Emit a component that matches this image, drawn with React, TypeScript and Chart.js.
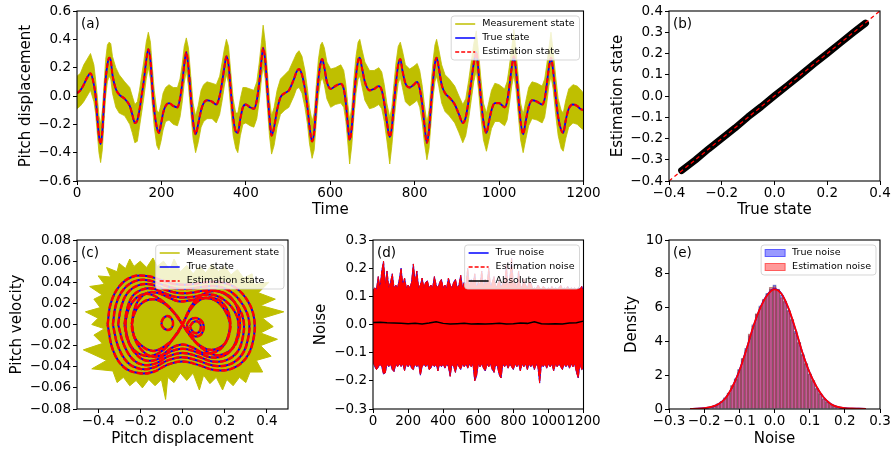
import React, { useEffect, useRef } from 'react';
import { Chart, registerables } from 'chart.js';

Chart.register(...registerables);

const FONT = "'DejaVu Sans', 'Liberation Sans', sans-serif";
const YEL = '#bfbf00';
const BLUE = '#0000ff';
const RED = '#ff0000';

// ---------------- (a) pitch displacement vs time ----------------
const stateTime = [
  0, 8, 16, 24, 32, 40, 44, 48, 52, 56,
  60, 64, 68, 72, 76, 80, 84, 92, 100, 113,
  125, 131, 137, 143, 148, 153, 158, 164, 169, 174,
  178, 183, 189, 194, 199, 204, 210, 218, 228, 238,
  244, 249, 254, 259, 264, 269, 275, 281, 287, 294,
  300, 308, 320, 330, 338, 344, 349, 354, 359, 364,
  370, 376, 381, 387, 393, 400, 410, 419, 426, 432,
  437, 441, 446, 451, 456, 461, 467, 474, 482, 492,
  502, 514, 520, 526, 533, 540, 546, 551, 557, 562,
  567, 572, 577, 581, 586, 592, 601, 612, 625, 632,
  637, 641, 646, 651, 656, 661, 666, 670, 675, 682,
  693, 704, 715, 722, 728, 734, 741, 746, 751, 756,
  761, 766, 771, 778, 788, 798, 806, 812, 818, 823,
  829, 834, 839, 844, 848, 852, 857, 864, 872, 882,
  895, 905, 914, 921, 928, 934, 940, 946, 951, 957,
  963, 970, 976, 982, 990, 1000, 1013, 1019, 1024, 1030,
  1035, 1040, 1046, 1051, 1057, 1063, 1070, 1078, 1090, 1102,
  1108, 1113, 1118, 1123, 1128, 1134, 1140, 1147, 1152, 1158,
  1165, 1175, 1185, 1192, 1200,
];
const trueState = [
  0.02, 0.04, 0.08, 0.13, 0.16, 0.08, 0.0, -0.15, -0.28, -0.34,
  -0.25, -0.05, 0.12, 0.22, 0.27, 0.25, 0.15, 0.05, 0.01, -0.02,
  -0.07, -0.13, -0.19, -0.17, -0.1, 0.0, 0.1, 0.25, 0.33, 0.25,
  0.08, -0.1, -0.22, -0.26, -0.2, -0.12, -0.07, -0.05, -0.07, -0.08,
  -0.02, 0.08, 0.22, 0.31, 0.2, 0.02, -0.18, -0.27, -0.2, -0.1,
  -0.05, -0.03, -0.04, -0.06, 0.0, 0.1, 0.2, 0.28, 0.22, 0.05,
  -0.15, -0.25, -0.26, -0.16, -0.08, -0.06, -0.08, -0.09, -0.03, 0.1,
  0.25, 0.34, 0.25, 0.05, -0.15, -0.28, -0.22, -0.1, -0.01, 0.02,
  0.04, 0.12, 0.17, 0.19, 0.15, 0.05, -0.08, -0.22, -0.32, -0.25,
  -0.05, 0.12, 0.23, 0.26, 0.2, 0.1, 0.05, 0.07, 0.085, 0.05,
  -0.05, -0.18, -0.31, -0.22, -0.02, 0.14, 0.25, 0.27, 0.2, 0.1,
  0.04, 0.05, 0.07, 0.04, -0.05, -0.18, -0.29, -0.22, -0.05, 0.1,
  0.22, 0.26, 0.18, 0.09, 0.06, 0.08, 0.1, 0.05, -0.06, -0.2,
  -0.33, -0.24, -0.05, 0.12, 0.23, 0.27, 0.2, 0.08, 0.02, -0.01,
  -0.06, -0.13, -0.19, -0.15, -0.03, 0.1, 0.23, 0.31, 0.18, -0.02,
  -0.18, -0.26, -0.18, -0.1, -0.05, -0.05, -0.08, -0.04, 0.06, 0.2,
  0.28, 0.18, -0.02, -0.18, -0.27, -0.18, -0.08, -0.03, -0.04, -0.06,
  -0.02, 0.08, 0.2, 0.27, 0.18, 0.0, -0.15, -0.24, -0.26, -0.17,
  -0.09, -0.06, -0.07, -0.09, -0.1,
];
// upper / lower edge of the noisy measurement trace
const measHigh = [
  0.14, 0.16, 0.22, 0.26, 0.3, 0.22, 0.12, 0.0, -0.14, -0.2,
  -0.1, 0.08, 0.26, 0.36, 0.38, 0.37, 0.28, 0.2, 0.15, 0.1,
  0.06, 0.0, -0.06, -0.04, 0.04, 0.14, 0.24, 0.38, 0.45, 0.38,
  0.22, 0.04, -0.1, -0.12, -0.06, 0.02, 0.06, 0.08, 0.06, 0.06,
  0.12, 0.22, 0.35, 0.41, 0.34, 0.16, -0.05, -0.14, -0.07, 0.04,
  0.08, 0.1, 0.09, 0.08, 0.14, 0.24, 0.33, 0.4, 0.35, 0.18,
  -0.02, -0.12, -0.12, -0.02, 0.06, 0.06, 0.05, 0.04, 0.1, 0.24,
  0.38, 0.5, 0.38, 0.18, -0.02, -0.14, -0.08, 0.04, 0.12, 0.15,
  0.18, 0.26, 0.3, 0.32, 0.28, 0.18, 0.05, -0.08, -0.18, -0.12,
  0.08, 0.26, 0.36, 0.38, 0.34, 0.24, 0.19, 0.2, 0.22, 0.18,
  0.08, -0.04, -0.17, -0.08, 0.12, 0.28, 0.38, 0.4, 0.33, 0.24,
  0.18, 0.18, 0.2, 0.17, 0.08, -0.05, -0.15, -0.08, 0.09, 0.24,
  0.35, 0.38, 0.32, 0.22, 0.19, 0.21, 0.23, 0.18, 0.07, -0.06,
  -0.19, -0.1, 0.09, 0.26, 0.36, 0.4, 0.33, 0.22, 0.15, 0.12,
  0.07, 0.0, -0.06, -0.02, 0.11, 0.24, 0.37, 0.46, 0.32, 0.12,
  -0.05, -0.12, -0.04, 0.04, 0.09, 0.08, 0.05, 0.1, 0.2, 0.34,
  0.47, 0.32, 0.12, -0.05, -0.13, -0.04, 0.06, 0.1, 0.09, 0.07,
  0.12, 0.22, 0.34, 0.45, 0.32, 0.14, -0.02, -0.1, -0.12, -0.03,
  0.05, 0.08, 0.07, 0.05, 0.02,
];
const measLow = [
  -0.09, -0.07, -0.04, 0.0, 0.04, -0.04, -0.12, -0.26, -0.4, -0.47,
  -0.38, -0.18, 0.0, 0.1, 0.14, 0.12, 0.02, -0.08, -0.12, -0.14,
  -0.2, -0.26, -0.33, -0.32, -0.22, -0.12, -0.02, 0.12, 0.2, 0.12,
  -0.05, -0.22, -0.35, -0.38, -0.32, -0.24, -0.18, -0.17, -0.2, -0.21,
  -0.15, -0.05, 0.09, 0.18, 0.07, -0.1, -0.3, -0.4, -0.33, -0.22,
  -0.18, -0.16, -0.16, -0.19, -0.13, -0.03, 0.07, 0.15, 0.09, -0.08,
  -0.28, -0.37, -0.4, -0.28, -0.2, -0.19, -0.21, -0.22, -0.16, -0.03,
  0.12, 0.21, 0.12, -0.08, -0.28, -0.41, -0.35, -0.22, -0.13, -0.1,
  -0.08, 0.0, 0.05, 0.06, 0.02, -0.08, -0.2, -0.34, -0.44, -0.38,
  -0.18, 0.0, 0.1, 0.13, 0.08, -0.02, -0.08, -0.06, -0.05, -0.08,
  -0.18, -0.31, -0.48, -0.35, -0.15, 0.02, 0.12, 0.14, 0.07, -0.03,
  -0.09, -0.08, -0.06, -0.09, -0.18, -0.31, -0.48, -0.35, -0.18, -0.03,
  0.09, 0.13, 0.06, -0.04, -0.07, -0.05, -0.03, -0.08, -0.19, -0.33,
  -0.45, -0.37, -0.18, 0.0, 0.1, 0.14, 0.07, -0.05, -0.11, -0.14,
  -0.19, -0.26, -0.33, -0.28, -0.16, -0.03, 0.1, 0.18, 0.05, -0.15,
  -0.31, -0.39, -0.31, -0.23, -0.18, -0.18, -0.21, -0.17, -0.07, 0.07,
  0.15, 0.05, -0.15, -0.31, -0.4, -0.31, -0.21, -0.16, -0.17, -0.19,
  -0.15, -0.05, 0.07, 0.14, 0.05, -0.13, -0.28, -0.37, -0.39, -0.3,
  -0.22, -0.19, -0.2, -0.22, -0.24,
];
// the estimate coincides with the true state at this resolution
const estimationState = trueState;
const ticksAx = [0, 200, 400, 600, 800, 1000, 1200];
const ticksAy = [-0.6, -0.4, -0.2, 0, 0.2, 0.4, 0.6];

// ---------------- (b) estimation vs true ----------------
const scatterTrue = [-0.352, -0.3, -0.25, -0.2, -0.15, -0.1, -0.05, 0, 0.05, 0.1, 0.15, 0.2, 0.25, 0.3, 0.345];
const scatterEst = [-0.351, -0.301, -0.249, -0.2, -0.151, -0.098, -0.05, 0.001, 0.05, 0.1, 0.151, 0.2, 0.25, 0.3, 0.343];
const identityLine = [-0.4, 0.4];
const ticksBx = [-0.4, -0.2, 0, 0.2, 0.4];
const ticksBy = [-0.4, -0.3, -0.2, -0.1, 0, 0.1, 0.2, 0.3, 0.4];

// ---------------- (c) phase portrait ----------------
const measPhase = [
  [-0.43, 0.0], [-0.4, 0.006], [-0.46, 0.012], [-0.39, 0.016], [-0.42, 0.024], [-0.38, 0.028],
  [-0.44, 0.036], [-0.37, 0.038], [-0.4, 0.046], [-0.34, 0.045], [-0.36, 0.054], [-0.31, 0.05],
  [-0.3, 0.058], [-0.27, 0.053], [-0.25, 0.062], [-0.23, 0.055], [-0.2, 0.06], [-0.17, 0.054],
  [-0.14, 0.063], [-0.12, 0.055], [-0.09, 0.06], [-0.06, 0.052], [-0.04, 0.062], [-0.01, 0.05],
  [0.02, 0.056], [0.05, 0.048], [0.08, 0.055], [0.11, 0.049], [0.14, 0.057], [0.17, 0.05],
  [0.2, 0.055], [0.23, 0.047], [0.26, 0.052], [0.29, 0.044], [0.33, 0.048], [0.34, 0.038],
  [0.41, 0.04], [0.36, 0.03], [0.44, 0.024], [0.37, 0.018], [0.48, 0.012], [0.38, 0.006],
  [0.43, -0.002], [0.37, -0.008], [0.45, -0.014], [0.37, -0.02], [0.42, -0.03], [0.35, -0.034],
  [0.38, -0.045], [0.32, -0.045], [0.3, -0.055], [0.27, -0.05], [0.24, -0.058], [0.21, -0.052],
  [0.19, -0.062], [0.16, -0.05], [0.13, -0.056], [0.1, -0.048], [0.08, -0.062], [0.05, -0.046],
  [0.02, -0.053], [-0.01, -0.046], [-0.04, -0.055], [-0.07, -0.05], [-0.08, -0.071], [-0.1, -0.052],
  [-0.13, -0.058], [-0.16, -0.052], [-0.19, -0.06], [-0.22, -0.053], [-0.25, -0.058], [-0.28, -0.05],
  [-0.31, -0.055], [-0.33, -0.044], [-0.43, -0.042], [-0.36, -0.034], [-0.47, -0.024], [-0.38, -0.018],
  [-0.42, -0.01], [-0.37, -0.004], [-0.43, 0.0],
];
const phaseOuter1 = [
  [-0.355, 0], [-0.34, 0.02], [-0.3, 0.036], [-0.24, 0.045], [-0.17, 0.046], [-0.1, 0.042], [-0.03, 0.038],
  [0.04, 0.038], [0.11, 0.04], [0.18, 0.04], [0.25, 0.035], [0.31, 0.022], [0.34, 0.005], [0.335, -0.015],
  [0.3, -0.032], [0.23, -0.042], [0.15, -0.043], [0.07, -0.038], [0, -0.035], [-0.07, -0.038],
  [-0.14, -0.045], [-0.21, -0.046], [-0.28, -0.04], [-0.33, -0.024], [-0.355, 0],
];
const phaseOuter2 = [
  [-0.33, 0], [-0.315, 0.019], [-0.28, 0.033], [-0.225, 0.041], [-0.165, 0.042], [-0.1, 0.038], [-0.03, 0.034],
  [0.04, 0.034], [0.11, 0.036], [0.17, 0.036], [0.23, 0.031], [0.285, 0.019], [0.315, 0.004], [0.31, -0.014],
  [0.28, -0.029], [0.22, -0.038], [0.15, -0.039], [0.07, -0.034], [0, -0.031], [-0.07, -0.034],
  [-0.14, -0.041], [-0.2, -0.042], [-0.26, -0.036], [-0.305, -0.021], [-0.33, 0],
];
const phaseOuter3 = [
  [-0.305, 0], [-0.29, 0.017], [-0.26, 0.03], [-0.21, 0.037], [-0.155, 0.038], [-0.095, 0.034], [-0.03, 0.03],
  [0.04, 0.03], [0.1, 0.032], [0.16, 0.032], [0.215, 0.027], [0.265, 0.016], [0.29, 0.003], [0.285, -0.013],
  [0.26, -0.026], [0.205, -0.034], [0.14, -0.035], [0.07, -0.03], [0, -0.027], [-0.065, -0.03],
  [-0.13, -0.037], [-0.19, -0.038], [-0.24, -0.032], [-0.28, -0.018], [-0.305, 0],
];
const phaseOuter4 = [
  [-0.275, 0], [-0.262, 0.015], [-0.236, 0.027], [-0.192, 0.033], [-0.143, 0.034], [-0.09, 0.03], [-0.03, 0.026],
  [0.04, 0.026], [0.1, 0.028], [0.15, 0.028], [0.2, 0.023], [0.245, 0.013], [0.265, 0.002], [0.26, -0.011],
  [0.235, -0.023], [0.19, -0.03], [0.13, -0.031], [0.065, -0.026], [0, -0.023], [-0.06, -0.026],
  [-0.12, -0.033], [-0.175, -0.034], [-0.22, -0.028], [-0.258, -0.016], [-0.275, 0],
];
const phaseOuter5 = [
  [-0.24, 0], [-0.23, 0.013], [-0.205, 0.024], [-0.165, 0.03], [-0.12, 0.03], [-0.07, 0.026], [-0.02, 0.022],
  [0.04, 0.023], [0.09, 0.025], [0.14, 0.024], [0.18, 0.019], [0.21, 0.01], [0.225, 0], [0.218, -0.01],
  [0.195, -0.02], [0.155, -0.026], [0.1, -0.027], [0.05, -0.022], [0, -0.019], [-0.05, -0.022],
  [-0.1, -0.029], [-0.15, -0.03], [-0.19, -0.025], [-0.225, -0.014], [-0.24, 0],
];
const phaseEight1 = [
  [0, 0], [0.04, 0.015], [0.09, 0.024], [0.15, 0.025], [0.2, 0.018], [0.225, 0.005], [0.22, -0.01],
  [0.19, -0.02], [0.13, -0.024], [0.07, -0.018], [0.03, -0.009], [0, 0], [-0.03, 0.009], [-0.08, 0.019],
  [-0.14, 0.024], [-0.2, 0.019], [-0.235, 0.006], [-0.235, -0.008], [-0.2, -0.019], [-0.14, -0.025],
  [-0.08, -0.02], [-0.03, -0.01], [0, 0],
];
const phaseEight2 = [
  [0, 0], [0.05, 0.02], [0.11, 0.03], [0.18, 0.031], [0.24, 0.023], [0.27, 0.007], [0.265, -0.011],
  [0.23, -0.024], [0.16, -0.029], [0.09, -0.022], [0.04, -0.011], [0, 0], [-0.04, 0.011], [-0.1, 0.023],
  [-0.17, 0.029], [-0.23, 0.023], [-0.265, 0.008], [-0.265, -0.009], [-0.23, -0.024], [-0.16, -0.03],
  [-0.09, -0.024], [-0.04, -0.012], [0, 0],
];
const phaseSpiralL = [
  [-0.1, 0.002], [-0.09, 0.006], [-0.07, 0.008], [-0.05, 0.005], [-0.045, 0], [-0.055, -0.004],
  [-0.075, -0.005], [-0.095, -0.002], [-0.1, 0.002],
];
const phaseSpiralR1 = [
  [0.02, 0], [0.04, 0.005], [0.07, 0.006], [0.095, 0.002], [0.1, -0.004], [0.085, -0.01],
  [0.055, -0.011], [0.03, -0.006], [0.02, 0],
];
const phaseSpiralR2 = [
  [0.035, -0.002], [0.05, 0.002], [0.07, 0.003], [0.085, 0], [0.085, -0.005], [0.07, -0.008],
  [0.05, -0.007], [0.035, -0.002],
];
const phaseLoops = [phaseOuter1, phaseOuter2, phaseOuter3, phaseOuter4, phaseOuter5, phaseEight1, phaseEight2, phaseSpiralL, phaseSpiralR1, phaseSpiralR2];
const ticksCx = [-0.4, -0.2, 0, 0.2, 0.4];
const ticksCy = [-0.08, -0.06, -0.04, -0.02, 0, 0.02, 0.04, 0.06, 0.08];

// ---------------- (d) noise ----------------
const noiseTime = [
  0, 10, 20, 30, 40, 50, 60, 70, 80, 90,
  100, 110, 120, 130, 140, 150, 160, 170, 180, 190,
  200, 210, 220, 230, 240, 250, 260, 270, 280, 290,
  300, 310, 320, 330, 340, 350, 360, 370, 380, 390,
  400, 410, 420, 430, 440, 450, 460, 470, 480, 490,
  500, 510, 520, 530, 540, 550, 560, 570, 580, 590,
  600, 610, 620, 630, 640, 650, 660, 670, 680, 690,
  700, 710, 720, 730, 740, 750, 760, 770, 780, 790,
  800, 810, 820, 830, 840, 850, 860, 870, 880, 890,
  900, 910, 920, 930, 940, 950, 960, 970, 980, 990,
  1000, 1010, 1020, 1030, 1040, 1050, 1060, 1070, 1080, 1090,
  1100, 1110, 1120, 1130, 1140, 1150, 1160, 1170, 1180, 1190,
  1200,
];
const noiseHigh = [
  0.12, 0.13, 0.125, 0.17, 0.13, 0.19, 0.225, 0.14, 0.19, 0.13,
  0.15, 0.18, 0.13, 0.14, 0.13, 0.16, 0.2, 0.14, 0.165, 0.13,
  0.14, 0.13, 0.15, 0.215, 0.15, 0.19, 0.13, 0.14, 0.165, 0.13,
  0.15, 0.155, 0.13, 0.14, 0.13, 0.17, 0.14, 0.13, 0.15, 0.16,
  0.13, 0.14, 0.13, 0.165, 0.14, 0.13, 0.15, 0.16, 0.13, 0.14,
  0.175, 0.13, 0.15, 0.14, 0.2, 0.13, 0.16, 0.14, 0.18, 0.13,
  0.15, 0.14, 0.19, 0.13, 0.16, 0.14, 0.2, 0.13, 0.15, 0.17,
  0.13, 0.14, 0.16, 0.13, 0.15, 0.14, 0.21, 0.13, 0.16, 0.235,
  0.14, 0.15, 0.13, 0.19, 0.14, 0.13, 0.16, 0.14, 0.13, 0.15,
  0.15, 0.125, 0.13, 0.125, 0.14, 0.13, 0.125, 0.135, 0.13, 0.125,
  0.13, 0.125, 0.135, 0.125, 0.13, 0.125, 0.13, 0.14, 0.125, 0.13,
  0.125, 0.135, 0.125, 0.13, 0.125, 0.13, 0.125, 0.13, 0.125, 0.135,
  0.12,
];
const noiseLow = [
  -0.13, -0.15, -0.16, -0.152, -0.14, -0.15, -0.176, -0.172, -0.14, -0.15,
  -0.14, -0.16, -0.167, -0.14, -0.15, -0.14, -0.149, -0.14, -0.164, -0.14,
  -0.15, -0.14, -0.155, -0.16, -0.14, -0.15, -0.14, -0.18, -0.15, -0.14,
  -0.15, -0.14, -0.16, -0.155, -0.14, -0.15, -0.14, -0.165, -0.14, -0.15,
  -0.14, -0.155, -0.14, -0.15, -0.184, -0.14, -0.15, -0.17, -0.14, -0.15,
  -0.16, -0.14, -0.15, -0.14, -0.155, -0.14, -0.15, -0.14, -0.2, -0.184,
  -0.14, -0.15, -0.14, -0.155, -0.165, -0.14, -0.15, -0.14, -0.16, -0.17,
  -0.14, -0.15, -0.18, -0.19, -0.14, -0.15, -0.14, -0.155, -0.14, -0.15,
  -0.16, -0.14, -0.15, -0.14, -0.165, -0.14, -0.15, -0.14, -0.16, -0.14,
  -0.15, -0.14, -0.16, -0.14, -0.15, -0.208, -0.14, -0.15, -0.14, -0.155,
  -0.14, -0.15, -0.14, -0.165, -0.14, -0.15, -0.14, -0.15, -0.16, -0.14,
  -0.15, -0.14, -0.155, -0.14, -0.15, -0.14, -0.17, -0.19, -0.14, -0.16,
  -0.155,
];
const errTime = [0, 40, 80, 120, 160, 200, 240, 280, 320, 360, 400, 440, 480, 520, 560, 600, 640, 680, 720, 760, 800, 840, 880, 920, 960, 1000, 1040, 1080, 1120, 1160, 1200];
const errAbs = [0.007, 0.008, 0.006, 0.005, 0.004, 0.003, 0.004, 0.002, 0.005, 0.01, 0.004, 0.002, 0.003, 0.004, 0.002, 0.003, 0.002, 0.003, 0.004, 0.002, 0.003, 0.005, 0.004, 0.01, 0.003, 0.002, 0.003, 0.002, 0.005, 0.006, 0.012];
const ticksDx = [0, 200, 400, 600, 800, 1000, 1200];
const ticksDy = [-0.3, -0.2, -0.1, 0, 0.1, 0.2, 0.3];

// ---------------- (e) noise histogram ----------------
const histBins = [
  -0.23, -0.22, -0.21, -0.2, -0.19, -0.18, -0.17, -0.16, -0.15, -0.14,
  -0.13, -0.12, -0.11, -0.1, -0.09, -0.08, -0.07, -0.06, -0.05, -0.04,
  -0.03, -0.02, -0.01, 0.0, 0.01, 0.02, 0.03, 0.04, 0.05, 0.06,
  0.07, 0.08, 0.09, 0.1, 0.11, 0.12, 0.13, 0.14, 0.15, 0.16,
  0.17, 0.18, 0.19, 0.2, 0.21, 0.22, 0.23, 0.24, 0.25,
];
const histTrue = [
  0.02, 0.02, 0.03, 0.05, 0.07, 0.12, 0.2, 0.3, 0.45, 0.65,
  0.95, 1.35, 1.8, 2.35, 2.95, 3.6, 4.35, 5.0, 5.6, 6.1,
  6.45, 6.85, 7.1, 7.35, 7.05, 6.75, 6.35, 5.85, 5.25, 4.6,
  3.9, 3.25, 2.65, 2.1, 1.65, 1.25, 0.9, 0.62, 0.42, 0.27,
  0.17, 0.11, 0.07, 0.05, 0.04, 0.03, 0.02, 0.02, 0.01,
];
const histEst = [
  0.01, 0.02, 0.03, 0.04, 0.08, 0.11, 0.19, 0.32, 0.43, 0.68,
  0.92, 1.4, 1.75, 2.3, 3.0, 3.5, 4.45, 4.9, 5.65, 6.0,
  6.5, 6.8, 7.2, 7.25, 7.1, 6.6, 6.4, 5.8, 5.3, 4.5,
  3.95, 3.2, 2.7, 2.05, 1.7, 1.2, 0.92, 0.6, 0.4, 0.28,
  0.16, 0.12, 0.06, 0.05, 0.03, 0.03, 0.02, 0.01, 0.01,
];
const kdeX = [-0.24, -0.22, -0.2, -0.18, -0.16, -0.14, -0.12, -0.1, -0.08, -0.06, -0.04, -0.02, 0, 0.02, 0.04, 0.06, 0.08, 0.1, 0.12, 0.14, 0.16, 0.18, 0.2, 0.22, 0.24, 0.26];
const kdeTrue = [0.01, 0.02, 0.05, 0.12, 0.28, 0.63, 1.3, 2.27, 3.52, 4.88, 6.02, 6.78, 7.1, 6.82, 5.93, 4.68, 3.3, 2.16, 1.3, 0.68, 0.3, 0.12, 0.05, 0.03, 0.02, 0.01];
const kdeEst = [0.01, 0.02, 0.05, 0.12, 0.28, 0.62, 1.3, 2.25, 3.5, 4.9, 6.0, 6.75, 7.08, 6.8, 5.95, 4.7, 3.3, 2.15, 1.3, 0.68, 0.3, 0.12, 0.05, 0.03, 0.02, 0.01];
const ticksEx = [-0.3, -0.2, -0.1, 0, 0.1, 0.2, 0.3];
const ticksEy = [0, 2, 4, 6, 8, 10];

// ---------------- helpers ----------------
const pts = (xs: number[], ys: number[]) => xs.map((x, i) => ({ x, y: ys[i] }));
const pairPts = (arr: number[][]) => arr.map(([x, y]) => ({ x, y }));
const sign = (v: number) => (v < -1e-9 ? '\u2212' : '');
const f0 = (v: number) => sign(v) + Math.abs(v).toFixed(0);
const f1 = (v: number) => sign(v) + Math.abs(v).toFixed(1);
const f2 = (v: number) => sign(v) + Math.abs(v).toFixed(2);

type Rect = { l: number; t: number; r: number; b: number; wy: number; hx: number };
const RA: Rect = { l: 77, t: 11, r: 583.5, b: 181, wy: 60, hx: 38 };
const RB: Rect = { l: 669, t: 11, r: 880, b: 181, wy: 60, hx: 38 };
const RC: Rect = { l: 77, t: 240, r: 288, b: 409, wy: 69, hx: 39.5 };
const RD: Rect = { l: 373, t: 240, r: 583.5, b: 409, wy: 60.5, hx: 39.5 };
const RE: Rect = { l: 669, t: 240, r: 880, b: 409, wy: 45.5, hx: 39.5 };

function axis(kind: 'x' | 'y', min: number, max: number, ticks: number[], fmt: (v: number) => string, title: string, fit: number) {
  return {
    type: 'linear',
    position: kind === 'x' ? 'bottom' : 'left',
    min,
    max,
    offset: false,
    afterBuildTicks: (s: any) => {
      s.ticks = ticks.map((v) => ({ value: v }));
    },
    afterFit: (s: any) => {
      if (kind === 'x') s.height = fit;
      else s.width = fit;
    },
    ticks: {
      callback: (v: any) => fmt(Number(v)),
      font: { family: FONT, size: 13.5 },
      color: '#000',
      padding: kind === 'x' ? 0 : 2,
      autoSkip: false,
      maxRotation: 0,
      minRotation: 0,
    },
    grid: { display: true, offset: false, drawOnChartArea: false, drawTicks: true, tickLength: 4, color: '#000', tickColor: '#000', tickWidth: 1 },
    border: { display: false },
    title: { display: true, text: title, font: { family: FONT, size: 15 }, color: '#000', padding: 0 },
  };
}

function baseOptions(p: Rect, x: any, y: any) {
  return {
    animation: false,
    responsive: false,
    devicePixelRatio: 1,
    events: [],
    layout: { padding: { left: p.l - p.wy, top: p.t, right: 891 - p.r, bottom: 450 - p.b - p.hx } },
    plugins: { legend: { display: false }, tooltip: { enabled: false } },
    elements: { point: { radius: 0 } },
    scales: { x, y },
  };
}

type LegendItem = { label: string; kind: 'line' | 'patch'; color: string; dash?: number[]; edge?: string };

function decor(label: string, legend?: LegendItem[]) {
  return {
    id: 'decor',
    afterDatasetsDraw(chart: any) {
      const { ctx, chartArea: a } = chart;
      ctx.save();
      ctx.setLineDash([]);
      ctx.strokeStyle = '#000';
      ctx.lineWidth = 1.1;
      ctx.strokeRect(a.left, a.top, a.right - a.left, a.bottom - a.top);
      ctx.fillStyle = '#000';
      ctx.font = `13.5px ${FONT}`;
      ctx.textBaseline = 'middle';
      ctx.textAlign = 'left';
      ctx.fillText(label, a.left + 4, a.top + 13);
      if (legend) {
        ctx.font = `9.5px ${FONT}`;
        const tw = Math.max(...legend.map((it) => ctx.measureText(it.label).width));
        const bw = 4 + 20 + 7 + tw + 5;
        const bh = 16 + 14 * (legend.length - 1);
        const x0 = a.right - 4 - bw;
        const y0 = a.top + 5;
        const r = 3;
        ctx.beginPath();
        ctx.moveTo(x0 + r, y0);
        ctx.lineTo(x0 + bw - r, y0);
        ctx.quadraticCurveTo(x0 + bw, y0, x0 + bw, y0 + r);
        ctx.lineTo(x0 + bw, y0 + bh - r);
        ctx.quadraticCurveTo(x0 + bw, y0 + bh, x0 + bw - r, y0 + bh);
        ctx.lineTo(x0 + r, y0 + bh);
        ctx.quadraticCurveTo(x0, y0 + bh, x0, y0 + bh - r);
        ctx.lineTo(x0, y0 + r);
        ctx.quadraticCurveTo(x0, y0, x0 + r, y0);
        ctx.closePath();
        ctx.fillStyle = 'rgba(255,255,255,0.8)';
        ctx.fill();
        ctx.strokeStyle = 'rgba(204,204,204,0.8)';
        ctx.lineWidth = 1;
        ctx.stroke();
        legend.forEach((it, i) => {
          const y = y0 + 8 + 14 * i;
          if (it.kind === 'patch') {
            ctx.fillStyle = it.color;
            ctx.fillRect(x0 + 4, y - 3.5, 20, 7);
            ctx.strokeStyle = it.edge || it.color;
            ctx.lineWidth = 1;
            ctx.strokeRect(x0 + 4, y - 3.5, 20, 7);
          } else {
            ctx.strokeStyle = it.color;
            ctx.lineWidth = 1.5;
            ctx.setLineDash(it.dash || []);
            ctx.beginPath();
            ctx.moveTo(x0 + 4, y);
            ctx.lineTo(x0 + 24, y);
            ctx.stroke();
            ctx.setLineDash([]);
          }
          ctx.fillStyle = '#000';
          ctx.fillText(it.label, x0 + 31, y);
        });
      }
      ctx.restore();
    },
  };
}

const legendState: LegendItem[] = [
  { label: 'Measurement state', kind: 'line', color: YEL },
  { label: 'True state', kind: 'line', color: BLUE },
  { label: 'Estimation state', kind: 'line', color: RED, dash: [4, 2] },
];
const legendNoise: LegendItem[] = [
  { label: 'True noise', kind: 'line', color: BLUE },
  { label: 'Estimation noise', kind: 'line', color: RED, dash: [4, 2] },
  { label: 'Absolute error', kind: 'line', color: '#000' },
];
const legendHist: LegendItem[] = [
  { label: 'True noise', kind: 'patch', color: 'rgba(0,0,255,0.4)', edge: 'rgba(0,0,255,0.55)' },
  { label: 'Estimation noise', kind: 'patch', color: 'rgba(255,0,0,0.4)', edge: 'rgba(255,0,0,0.55)' },
];

// ---------------- chart configs ----------------
function configA(): any {
  return {
    type: 'line',
    data: {
      datasets: [
        { data: pts(stateTime, measHigh), borderColor: YEL, backgroundColor: YEL, borderWidth: 0.8, fill: '+1', tension: 0, order: 5 },
        { data: pts(stateTime, measLow), borderColor: YEL, borderWidth: 0.8, fill: false, tension: 0, order: 4 },
        { data: pts(stateTime, trueState), borderColor: BLUE, borderWidth: 1.8, fill: false, cubicInterpolationMode: 'monotone', order: 2 },
        { data: pts(stateTime, estimationState), borderColor: RED, borderWidth: 2.2, borderDash: [5, 2.5], fill: false, cubicInterpolationMode: 'monotone', order: 1 },
      ],
    },
    options: baseOptions(RA, axis('x', 0, 1200, ticksAx, f0, 'Time', RA.hx), axis('y', -0.6, 0.6, ticksAy, f1, 'Pitch displacement', RA.wy)),
    plugins: [decor('(a)', legendState)],
  };
}

function configB(): any {
  return {
    type: 'line',
    data: {
      datasets: [
        { data: pts(scatterTrue, scatterEst), borderColor: '#000', borderWidth: 7, borderCapStyle: 'round', borderJoinStyle: 'round', fill: false, tension: 0, order: 2 },
        { data: pts(identityLine, identityLine), borderColor: RED, borderWidth: 1.3, borderDash: [4, 3], fill: false, tension: 0, order: 1 },
      ],
    },
    options: baseOptions(RB, axis('x', -0.4, 0.4, ticksBx, f1, 'True state', RB.hx), axis('y', -0.4, 0.4, ticksBy, f1, 'Estimation state', RB.wy)),
    plugins: [decor('(b)')],
  };
}

function configC(): any {
  const datasets: any[] = [
    { data: pairPts(measPhase), borderColor: YEL, backgroundColor: YEL, borderWidth: 1, fill: 'shape', tension: 0, order: 30 },
  ];
  phaseLoops.forEach((loop) => {
    datasets.push({ data: pairPts(loop), borderColor: BLUE, borderWidth: 2, fill: false, tension: 0.4, order: 20 });
  });
  phaseLoops.forEach((loop) => {
    datasets.push({ data: pairPts(loop), borderColor: RED, borderWidth: 2.5, borderDash: [6, 2], fill: false, tension: 0.4, order: 10 });
  });
  return {
    type: 'line',
    data: { datasets },
    options: baseOptions(RC, axis('x', -0.5, 0.5, ticksCx, f1, 'Pitch displacement', RC.hx), axis('y', -0.08, 0.08, ticksCy, f2, 'Pitch velocity', RC.wy)),
    plugins: [decor('(c)', legendState)],
  };
}

function configD(): any {
  return {
    type: 'line',
    data: {
      datasets: [
        { data: pts(noiseTime, noiseHigh), borderColor: BLUE, backgroundColor: BLUE, borderWidth: 1, fill: '+1', tension: 0, order: 6 },
        { data: pts(noiseTime, noiseLow), borderColor: BLUE, borderWidth: 1, fill: false, tension: 0, order: 5 },
        { data: pts(noiseTime, noiseHigh), borderColor: RED, backgroundColor: RED, borderWidth: 1, borderDash: [5, 2], fill: '+1', tension: 0, order: 4 },
        { data: pts(noiseTime, noiseLow), borderColor: RED, borderWidth: 1, borderDash: [5, 2], fill: false, tension: 0, order: 3 },
        { data: pts(errTime, errAbs), borderColor: '#000', borderWidth: 1.5, fill: false, tension: 0, order: 1 },
      ],
    },
    options: baseOptions(RD, axis('x', 0, 1200, ticksDx, f0, 'Time', RD.hx), axis('y', -0.3, 0.3, ticksDy, f1, 'Noise', RD.wy)),
    plugins: [decor('(d)', legendNoise)],
  };
}

function configE(): any {
  return {
    type: 'bar',
    data: {
      datasets: [
        { type: 'bar', data: pts(histBins, histTrue), backgroundColor: 'rgba(0,0,255,0.4)', borderColor: 'rgba(90,90,110,0.55)', borderWidth: 0.6, barPercentage: 1, categoryPercentage: 1, grouped: false, order: 4 },
        { type: 'bar', data: pts(histBins, histEst), backgroundColor: 'rgba(255,0,0,0.4)', borderColor: 'rgba(110,90,90,0.55)', borderWidth: 0.6, barPercentage: 1, categoryPercentage: 1, grouped: false, order: 3 },
        { type: 'line', data: pts(kdeX, kdeTrue), borderColor: BLUE, borderWidth: 1.6, fill: false, cubicInterpolationMode: 'monotone', pointRadius: 0, order: 2 },
        { type: 'line', data: pts(kdeX, kdeEst), borderColor: RED, borderWidth: 1.8, fill: false, cubicInterpolationMode: 'monotone', pointRadius: 0, order: 1 },
      ],
    },
    options: baseOptions(RE, axis('x', -0.3, 0.3, ticksEx, f1, 'Noise', RE.hx), axis('y', 0, 10, ticksEy, f0, 'Density', RE.wy)),
    plugins: [decor('(e)', legendHist)],
  };
}

function Panel({ make }: { make: () => any }) {
  const ref = useRef<HTMLCanvasElement>(null);
  useEffect(() => {
    if (!ref.current) return;
    const chart = new Chart(ref.current, make());
    return () => chart.destroy();
  }, [make]);
  return (
    <canvas
      ref={ref}
      width={891}
      height={450}
      style={{ position: 'absolute', left: 0, top: 0, width: 891, height: 450 }}
    />
  );
}

const makers = [configA, configB, configC, configD, configE];

export default function App() {
  return (
    <div style={{ position: 'absolute', left: 0, top: 0, width: 891, height: 450, background: '#fff', overflow: 'hidden' }}>
      {makers.map((m, i) => (
        <Panel key={i} make={m} />
      ))}
    </div>
  );
}
